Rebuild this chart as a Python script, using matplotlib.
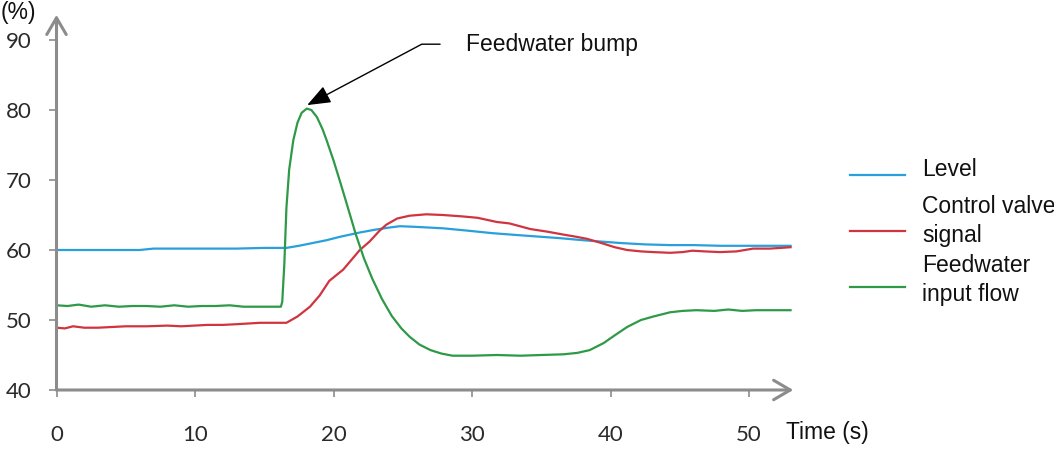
import matplotlib
matplotlib.use('Agg')
import matplotlib.pyplot as plt
from matplotlib.lines import Line2D

# ---------------------------------------------------------------------------
# values (time in s, signals in %)

level_t = [0, 2, 4, 6, 7, 9, 11, 13, 15, 16.6, 17.5, 18.5, 19.5, 20.5, 21.9,
           23.0, 24.0, 24.8, 26.0, 27.9, 29.5, 31.5, 33.5, 36.3, 38.0, 40.7,
           42.5, 44.3, 46.0, 48.0, 50.0, 53.0]
level = [60.0, 60.0, 60.0, 60.0, 60.2, 60.2, 60.2, 60.2, 60.3, 60.3, 60.6,
         61.0, 61.4, 61.9, 62.5, 62.9, 63.2, 63.4, 63.3, 63.1, 62.8, 62.4,
         62.1, 61.7, 61.4, 61.0, 60.8, 60.7, 60.7, 60.6, 60.6, 60.6]

valve_t = [0, 0.6, 1.2, 2.0, 3.0, 4.0, 5.0, 6.5, 8.0, 9.0, 10.9, 12.0, 13.0,
           14.7, 16.6, 17.4, 18.3, 19.0, 19.7, 20.7, 21.3, 21.9, 22.6, 23.3,
           23.8, 24.6, 25.5, 26.7, 27.9, 29.3, 30.4, 31.8, 32.7, 34.2, 35.5,
           36.6, 37.5, 38.3, 39.5, 40.3, 41.2, 42.2, 43.1, 44.3, 45.2, 45.9,
           46.8, 47.9, 49.1, 50.3, 51.5, 52.3, 53.0]
valve = [48.9, 48.8, 49.1, 48.9, 48.9, 49.0, 49.1, 49.1, 49.2, 49.1, 49.3,
         49.3, 49.4, 49.6, 49.6, 50.5, 51.9, 53.5, 55.6, 57.2, 58.6, 60.0,
         61.2, 62.7, 63.6, 64.5, 64.9, 65.1, 65.0, 64.8, 64.6, 64.0, 63.8,
         63.0, 62.6, 62.2, 61.9, 61.6, 60.9, 60.4, 60.0, 59.8, 59.7, 59.6,
         59.7, 59.9, 59.8, 59.7, 59.8, 60.2, 60.2, 60.3, 60.4]

flow_t = [0, 0.8, 1.6, 2.5, 3.5, 4.5, 5.5, 6.5, 7.5, 8.5, 9.5, 10.5, 11.5,
          12.5, 13.5, 14.5, 15.5, 16.2, 16.3, 16.45, 16.6, 16.8, 17.1, 17.4,
          17.7, 18.07, 18.4, 18.8, 19.2, 19.5, 20.0, 20.5, 21.0, 21.6, 22.2,
          22.8, 23.5, 24.2, 24.9, 25.5, 26.2, 27.0, 27.8, 28.6, 30.0, 31.8,
          33.5, 35.0, 36.6, 37.6, 38.5, 39.5, 40.3, 41.2, 42.2, 43.1, 44.3,
          45.2, 46.2, 47.5, 48.5, 49.5, 50.5, 51.5, 53.0]
flow = [52.1, 52.0, 52.2, 51.9, 52.1, 51.9, 52.0, 52.0, 51.9, 52.1, 51.9,
        52.0, 52.0, 52.1, 51.9, 51.9, 51.9, 51.9, 52.6, 58.0, 66.0, 71.5,
        75.7, 78.2, 79.6, 80.2, 80.0, 79.0, 77.3, 75.7, 72.8, 69.6, 66.3,
        62.3, 58.8, 55.9, 53.0, 50.6, 48.8, 47.6, 46.5, 45.7, 45.2, 44.9,
        44.9, 45.0, 44.9, 45.0, 45.1, 45.3, 45.7, 46.7, 47.8, 49.0, 50.0,
        50.5, 51.1, 51.3, 51.4, 51.3, 51.5, 51.3, 51.4, 51.4, 51.4]

series_labels = ['Level', 'Control valve\nsignal', 'Feedwater\ninput flow']
series_colors = ['#29a0dc', '#d0343f', '#2e9a48']

x_ticks = [0, 10, 20, 30, 40, 50]
y_ticks = [40, 50, 60, 70, 80, 90]

# ---------------------------------------------------------------------------

W, H = 1054, 468
dpi = 100.0
axis_gray = '#8c8c8c'
text_font = 'Liberation Sans'
tick_font = 'Lato'
text_size = 16.5

fig = plt.figure(figsize=(W / dpi, H / dpi), dpi=dpi)
# t=0 at x=56.5 px, 13.85 px per second; y=40 at 390 px, 7 px per %
xmax, ymax = 53.2, 93.6
ax = fig.add_axes([56.5 / W, (H - 390) / H, xmax * 13.85 / W,
                   (ymax - 40) * 7 / H])

for t, v, c in zip([level_t, valve_t, flow_t], [level, valve, flow],
                   series_colors):
    ax.plot(t, v, color=c, lw=1.6, solid_joinstyle='round')

ax.set_xlim(0, xmax)
ax.set_ylim(40, ymax)
for s in ax.spines.values():
    s.set_visible(False)

# axis arrows
arrow = dict(arrowstyle='->,head_length=0.6,head_width=0.35', color=axis_gray,
             lw=2.2, mutation_scale=20, shrinkA=0, shrinkB=0)
ax.annotate('', xy=(1.0, 0), xytext=(0, 0), xycoords='axes fraction',
            arrowprops=arrow, annotation_clip=False)
ax.annotate('', xy=(0, 1.0), xytext=(0, 0), xycoords='axes fraction',
            arrowprops=arrow, annotation_clip=False)

ax.set_xticks(x_ticks)
ax.set_yticks(y_ticks)
ax.tick_params(axis='x', length=5, width=1.2, color=axis_gray, pad=20,
               labelsize=16, labelcolor='#2a2a2a')
ax.tick_params(axis='y', length=6, width=1.2, color=axis_gray, pad=12,
               labelsize=16, labelcolor='#2a2a2a')
for lab in ax.get_xticklabels() + ax.get_yticklabels():
    lab.set_fontfamily(tick_font)

fig.text(786 / W, 1 - 433 / H, 'Time (s)', ha='left', va='center',
         fontsize=text_size, family=text_font, color='#111111')
fig.text(1 / W, 1 - 1 / H, '(%)', ha='left', va='top',
         fontsize=text_size, family=text_font, color='#111111')

# annotation for the bump
ax.annotate('Feedwater bump', xy=(18.1, 80.7), xytext=(29.6, 89.4),
            ha='left', va='center', fontsize=text_size, family=text_font,
            color='#111111',
            arrowprops=dict(arrowstyle='-|>,head_length=0.9,head_width=0.35',
                            connectionstyle='angle,angleA=0,angleB=28,rad=0',
                            color='black', lw=1, mutation_scale=16,
                            relpos=(0, 0.5), shrinkA=17, shrinkB=0))

# legend drawn by hand to match the spacing of the original
line_y = [175, 231, 287]
text_y = [170, 221, 280]
for lab, c, ly, ty in zip(series_labels, series_colors, line_y, text_y):
    fig.add_artist(Line2D([850 / W, 905 / W], [1 - ly / H, 1 - ly / H],
                          color=c, lw=1.6, transform=fig.transFigure))
    fig.text(922 / W, 1 - ty / H, lab, ha='left', va='center',
             fontsize=text_size, family=text_font, color='#111111',
             linespacing=1.3)

fig.savefig('out.png', dpi=dpi)
